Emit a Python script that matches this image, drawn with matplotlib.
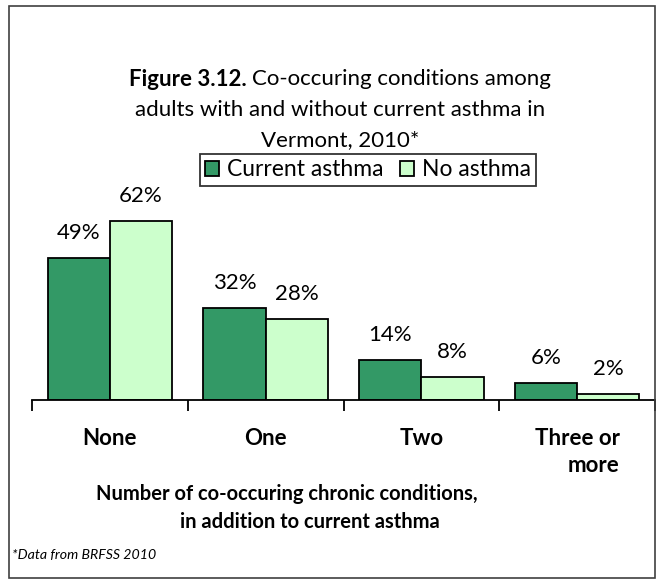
import matplotlib
matplotlib.use("Agg")
import matplotlib.pyplot as plt
from matplotlib.patches import Rectangle
import numpy as np

categories = ["None", "One", "Two", "Three or\nmore"]
series_names = ["Current asthma", "No asthma"]
current_asthma = [49, 32, 14, 6]
no_asthma = [62, 28, 8, 2]
value_labels_current = ["49%", "32%", "14%", "6%"]
value_labels_no = ["62%", "28%", "8%", "2%"]

FONT = ["Lato", "DejaVu Sans"]
plt.rcParams['font.family'] = FONT

W, H = 663, 584
fig = plt.figure(figsize=(W / 100, H / 100), dpi=100)

# outer border
fig.patches.append(Rectangle((9 / W, 1 - 578 / H), (655 - 9) / W, (578 - 6) / H,
                             transform=fig.transFigure, fill=False,
                             edgecolor="#404040", linewidth=1.2))

ax_l, ax_r = 32, 655
ax_b = 400
ymax = 70
px_per = 2.89
ax_t = ax_b - ymax * px_per
ax = fig.add_axes([ax_l / W, 1 - ax_b / H, (ax_r - ax_l) / W, (ax_b - ax_t) / H])

x = np.arange(len(categories))
bw = 0.4
b1 = ax.bar(x - bw / 2, current_asthma, bw, color="#339966", edgecolor="black",
            linewidth=1.3, label=series_names[0])
b2 = ax.bar(x + bw / 2, no_asthma, bw, color="#CCFFCC", edgecolor="black",
            linewidth=1.3, label=series_names[1])

for bars, labs in ((b1, value_labels_current), (b2, value_labels_no)):
    for r, t in zip(bars, labs):
        ax.annotate(t, (r.get_x() + r.get_width() / 2, r.get_height()),
                    xytext=(0, 18), textcoords="offset points",
                    ha="center", va="center", fontsize=16)

ax.set_xlim(-0.5, len(categories) - 0.5)
ax.set_ylim(0, ymax)
for s in ("top", "right", "left"):
    ax.spines[s].set_visible(False)
ax.spines["bottom"].set_linewidth(1.3)
ax.set_yticks([])
ax.set_xticks(x)
ax.set_xticklabels(categories, fontsize=16, fontweight="bold", multialignment="right")
ax.tick_params(axis="x", which="major", length=0, pad=20)
ax.set_xticks(np.arange(-0.5, len(categories)), minor=True)
ax.tick_params(axis="x", which="minor", length=8, width=1.3, direction="out")
for lab in ax.get_xticklabels():
    lab.set_linespacing(1.35)

# title, line 1 with bold prefix
renderer = fig.canvas.get_renderer()
TS = 16
tb = fig.text(0, 0, "Figure 3.12. ", fontsize=TS, fontweight="bold", va="center")
tr = fig.text(0, 0, "Co-occuring conditions among", fontsize=TS, va="center")
wb = tb.get_window_extent(renderer).width
wr = tr.get_window_extent(renderer).width
start = 340 - (wb + wr) / 2
tb.set_position((start / W, 1 - 79 / H))
tr.set_position(((start + wb) / W, 1 - 79 / H))
fig.text(340 / W, 1 - 110 / H, "adults with and without current asthma in",
         ha="center", va="center", fontsize=TS)
fig.text(340 / W, 1 - 140 / H, "Vermont, 2010*", ha="center", va="center", fontsize=TS)

leg = fig.legend(handles=[b1, b2], labels=series_names, loc="center",
                 bbox_to_anchor=(368 / W, 1 - 170 / H), ncol=2, fontsize=16.5,
                 frameon=True, fancybox=False, edgecolor="black",
                 handlelength=0.6, handleheight=0.6, handletextpad=0.35,
                 columnspacing=0.7, borderpad=0.25, borderaxespad=0)
leg.get_frame().set_linewidth(1.3)

fig.text(287 / W, 1 - 494 / H, "Number of co-occuring chronic conditions,",
         ha="center", va="center", fontsize=14.5, fontweight="bold")
fig.text(310 / W, 1 - 522 / H, "in addition to current asthma",
         ha="center", va="center", fontsize=14.5, fontweight="bold")
fig.text(12 / W, 1 - 555 / H, "*Data from BRFSS 2010", ha="left", va="center",
         fontsize=10.2, style="italic")

fig.savefig("out.png", dpi=100)
